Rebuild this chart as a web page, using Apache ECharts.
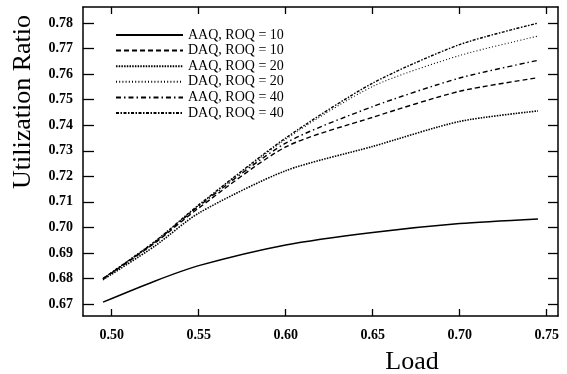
<!DOCTYPE html>
<html>
<head>
<meta charset="utf-8">
<script src="https://cdn.jsdelivr.net/npm/echarts@6/dist/echarts.min.js"></script>
<style>html,body{margin:0;padding:0;background:#fff;}#c{width:567px;height:374px;}</style>
</head>
<body>
<div id="c"></div>
<script>
const loads = [0.495, 0.525, 0.55, 0.60, 0.65, 0.70, 0.745];
const seriesNames = ['AAQ, ROQ = 10','DAQ, ROQ = 10','AAQ, ROQ = 20','DAQ, ROQ = 20','AAQ, ROQ = 40','DAQ, ROQ = 40'];
const aaq10 = [0.6707, 0.6790, 0.6850, 0.6931, 0.6980, 0.7015, 0.7033];
const daq10 = [0.6798, 0.6940, 0.7076, 0.7315, 0.7431, 0.7533, 0.7586];
const aaq20 = [0.6795, 0.6928, 0.7056, 0.7222, 0.7317, 0.7415, 0.7456];
const daq20 = [0.6800, 0.6945, 0.7086, 0.7345, 0.7552, 0.7673, 0.7749];
const aaq40 = [0.6799, 0.6943, 0.7083, 0.7330, 0.7473, 0.7585, 0.7654];
const daq40 = [0.6800, 0.6946, 0.7088, 0.7350, 0.7565, 0.7716, 0.7800];
const xTicks = [0.50, 0.55, 0.60, 0.65, 0.70, 0.75];
const yTicks = [0.67, 0.68, 0.69, 0.70, 0.71, 0.72, 0.73, 0.74, 0.75, 0.76, 0.77, 0.78];
const xTitle = 'Load';
const yTitle = 'Utilization Ratio';

const values = [aaq10, daq10, aaq20, daq20, aaq40, daq40];
const dashes = ['solid', [5,3], [1.5,1.2], [1,2.2], [5,3,1.5,3], [3,1.5,1.5,1.5]];
const widths = [1.4, 1.4, 1.6, 1.1, 1.4, 1.4];

const chart = echarts.init(document.getElementById('c'));
const serif = 'Liberation Serif';
const baseAxis = {
  type: 'value',
  axisLine: {show: true, onZero: false, lineStyle: {color: '#000', width: 1.5}},
  splitLine: {show: false}
};
chart.setOption({
  animation: false,
  backgroundColor: '#fff',
  grid: {left: 83, right: 9, top: 7, bottom: 58},
  legend: {
    orient: 'vertical', left: 115, top: 28, padding: 0,
    itemWidth: 67, itemHeight: 14, itemGap: 1.6,
    itemStyle: {opacity: 0},
    textStyle: {fontFamily: serif, fontSize: 14, color: '#000', lineHeight: 13},
    data: seriesNames
  },
  graphic: [
    {type: 'text', x: 23, y: 102, rotation: Math.PI / 2,
     style: {text: yTitle, fontFamily: serif, fontSize: 26, fill: '#000', align: 'center', verticalAlign: 'middle'}},
    {type: 'text', x: 412, y: 362,
     style: {text: xTitle, fontFamily: serif, fontSize: 26, fill: '#000', align: 'center', verticalAlign: 'middle'}}
  ],
  xAxis: [
    Object.assign({}, baseAxis, {
      position: 'bottom', min: 0.4835, max: 0.7565,
      axisTick: {show: true, inside: true, length: 7, customValues: xTicks, lineStyle: {color: '#000', width: 1.3}},
      axisLabel: {show: true, customValues: xTicks, margin: 12, fontFamily: serif, fontSize: 14, fontWeight: 'bold', color: '#000', formatter: v => v.toFixed(2)}
    }),
    Object.assign({}, baseAxis, {
      position: 'top', min: 0.4835, max: 0.7565,
      axisTick: {show: true, inside: true, length: 7, customValues: xTicks, lineStyle: {color: '#000', width: 1.3}},
      axisLabel: {show: false}
    })
  ],
  yAxis: [
    Object.assign({}, baseAxis, {
      position: 'left', min: 0.6653, max: 0.7863,
      axisTick: {show: true, inside: true, length: 11, customValues: yTicks, lineStyle: {color: '#000', width: 1.3}},
      axisLabel: {show: true, customValues: yTicks, margin: 10, fontFamily: serif, fontSize: 14, fontWeight: 'bold', color: '#000', formatter: v => v.toFixed(2)}
    }),
    Object.assign({}, baseAxis, {
      position: 'right', min: 0.6653, max: 0.7863,
      axisTick: {show: true, inside: true, length: 10, customValues: yTicks, lineStyle: {color: '#000', width: 1.3}},
      axisLabel: {show: false}
    })
  ],
  series: seriesNames.map((n, i) => ({
    name: n, type: 'line', xAxisIndex: 0, yAxisIndex: 0,
    showSymbol: false, symbol: 'none', smooth: 0.25,
    lineStyle: {color: '#000', width: widths[i], type: dashes[i]},
    itemStyle: {color: '#000'},
    data: loads.map((x, j) => [x, values[i][j]])
  }))
});
</script>
</body>
</html>
